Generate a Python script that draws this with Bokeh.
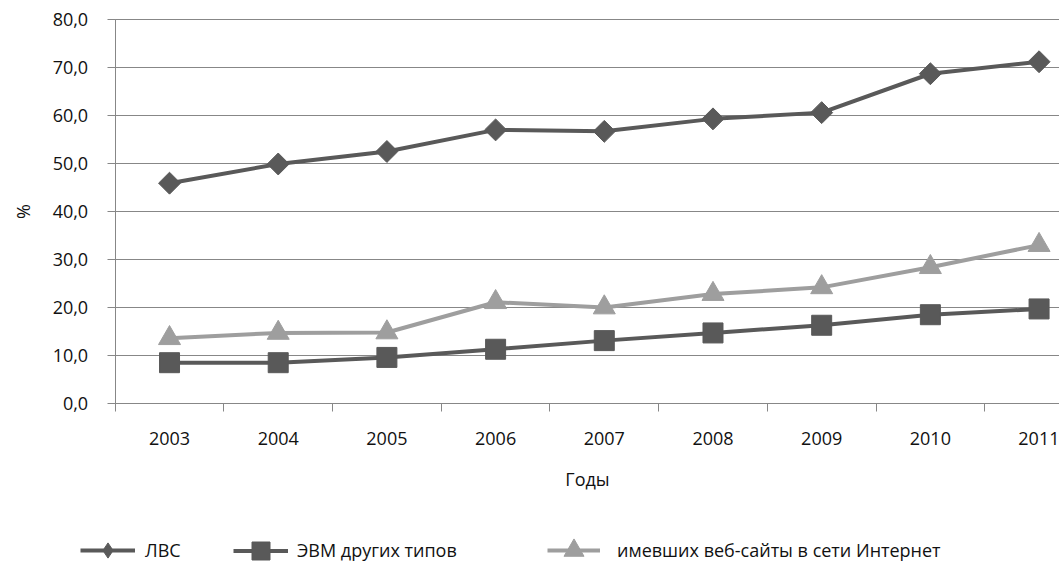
import math
from bokeh.plotting import figure
from bokeh.models import Range1d, FixedTicker, Legend, LegendItem
from bokeh.embed import file_html
from bokeh.resources import INLINE

# ---- data ----
years = ["2003", "2004", "2005", "2006", "2007", "2008", "2009", "2010", "2011"]
lvs = [45.9, 49.9, 52.5, 57.0, 56.7, 59.3, 60.6, 68.7, 71.2]
evm = [8.5, 8.5, 9.6, 11.3, 13.1, 14.7, 16.3, 18.5, 19.7]
web = [13.6, 14.7, 14.8, 21.1, 20.0, 22.8, 24.2, 28.4, 33.0]
series_names = ["ЛВС", "ЭВМ других типов", "имевших веб-сайты в сети Интернет"]
y_ticks = [0, 10, 20, 30, 40, 50, 60, 70, 80]
y_tick_labels = ["0,0", "10,0", "20,0", "30,0", "40,0", "50,0", "60,0", "70,0", "80,0"]
x_title = "Годы"
y_title = "%"

FONT = "Open Sans"
TXT = "#111111"
GRID = "#878787"
DARK = "#595959"
LIGHT = "#9e9e9e"

x = [int(v) for v in years]

# the frame covers the whole canvas; axes are pinned inside it
X_START, X_END = 2001.445, 2011.188
Y_START, Y_END = -33.125, 83.96
x_lo = x[0] - 0.5

p = figure(width=1059, height=562, output_backend="svg", toolbar_location=None,
           title=None,
           x_range=Range1d(X_START, X_END), y_range=Range1d(Y_START, Y_END),
           min_border=0)
p.outline_line_color = None
p.background_fill_color = "white"
p.xgrid.visible = False
p.ygrid.visible = False

# horizontal gridlines, from the y axis to the right edge
n = len(y_ticks)
p.segment(x0=[x_lo] * n, y0=y_ticks, x1=[X_END] * n, y1=y_ticks,
          line_color=GRID, line_width=1, level="underlay")

# x axis
xa = p.xaxis[0]
xa.fixed_location = y_ticks[0]
xa.bounds = (x_lo, X_END)
xa.ticker = FixedTicker(ticks=x, minor_ticks=[v - 0.5 for v in x] + [x[-1] + 0.5])
xa.major_label_overrides = {v: s for v, s in zip(x, years)}
xa.major_tick_out = 0
xa.major_tick_in = 0
xa.minor_tick_out = 8
xa.minor_tick_in = 0
xa.minor_tick_line_color = GRID
xa.axis_line_color = GRID
xa.major_label_standoff = 20
xa.axis_label = x_title
xa.axis_label_standoff = 19

# y axis
ya = p.yaxis[0]
ya.fixed_location = x_lo
ya.bounds = (y_ticks[0], y_ticks[-1])
ya.ticker = FixedTicker(ticks=y_ticks)
ya.major_label_overrides = {v: s for v, s in zip(y_ticks, y_tick_labels)}
ya.major_tick_out = 8
ya.major_tick_in = 0
ya.major_tick_line_color = GRID
ya.minor_tick_line_color = None
ya.axis_line_color = GRID
ya.major_label_standoff = 19
ya.axis_label = y_title
ya.axis_label_standoff = 15

for ax in (xa, ya):
    ax.major_label_text_font = FONT
    ax.major_label_text_font_size = "18px"
    ax.major_label_text_color = TXT
    ax.axis_label_text_font = FONT
    ax.axis_label_text_font_size = "18px"
    ax.axis_label_text_font_style = "normal"
    ax.axis_label_text_color = TXT

# series
l1 = p.line(x, lvs, line_color=DARK, line_width=4)
s1 = p.scatter(x, lvs, marker="square", size=15.5, angle=math.pi / 4,
               fill_color=DARK, line_color=DARK)
# legend-only diamond (legends ignore marker angle)
g1 = p.scatter(x, lvs, marker="diamond", fill_color=DARK, line_color=DARK, visible=False)
l2 = p.line(x, evm, line_color=DARK, line_width=4)
s2 = p.scatter(x, evm, marker="square", size=20, fill_color=DARK, line_color=DARK)
l3 = p.line(x, web, line_color=LIGHT, line_width=4)
s3 = p.scatter(x, web, marker="triangle", size=22, fill_color=LIGHT, line_color=LIGHT)

# legends (one per item to reproduce the irregular spacing)
leg_specs = [
    (series_names[0], [l1, g1], 80, 38, 55, 10),
    (series_names[1], [l2, s2], 233, 45, 55, 9),
    (series_names[2], [l3, s3], 547, 50, 53, 17),
]
for name, rends, lx, gh, gw, st in leg_specs:
    leg = Legend(items=[LegendItem(label=name, renderers=rends)],
                 location=(lx, 12 - gh / 2), orientation="horizontal",
                 glyph_width=gw, glyph_height=gh, label_standoff=st,
                 padding=0, margin=0, spacing=0,
                 border_line_color=None, background_fill_alpha=0,
                 inactive_fill_alpha=0,
                 label_text_font=FONT, label_text_font_size="18px",
                 label_text_color=TXT)
    p.add_layout(leg, "center")

open("out.html", "w").write(file_html(p, INLINE))
